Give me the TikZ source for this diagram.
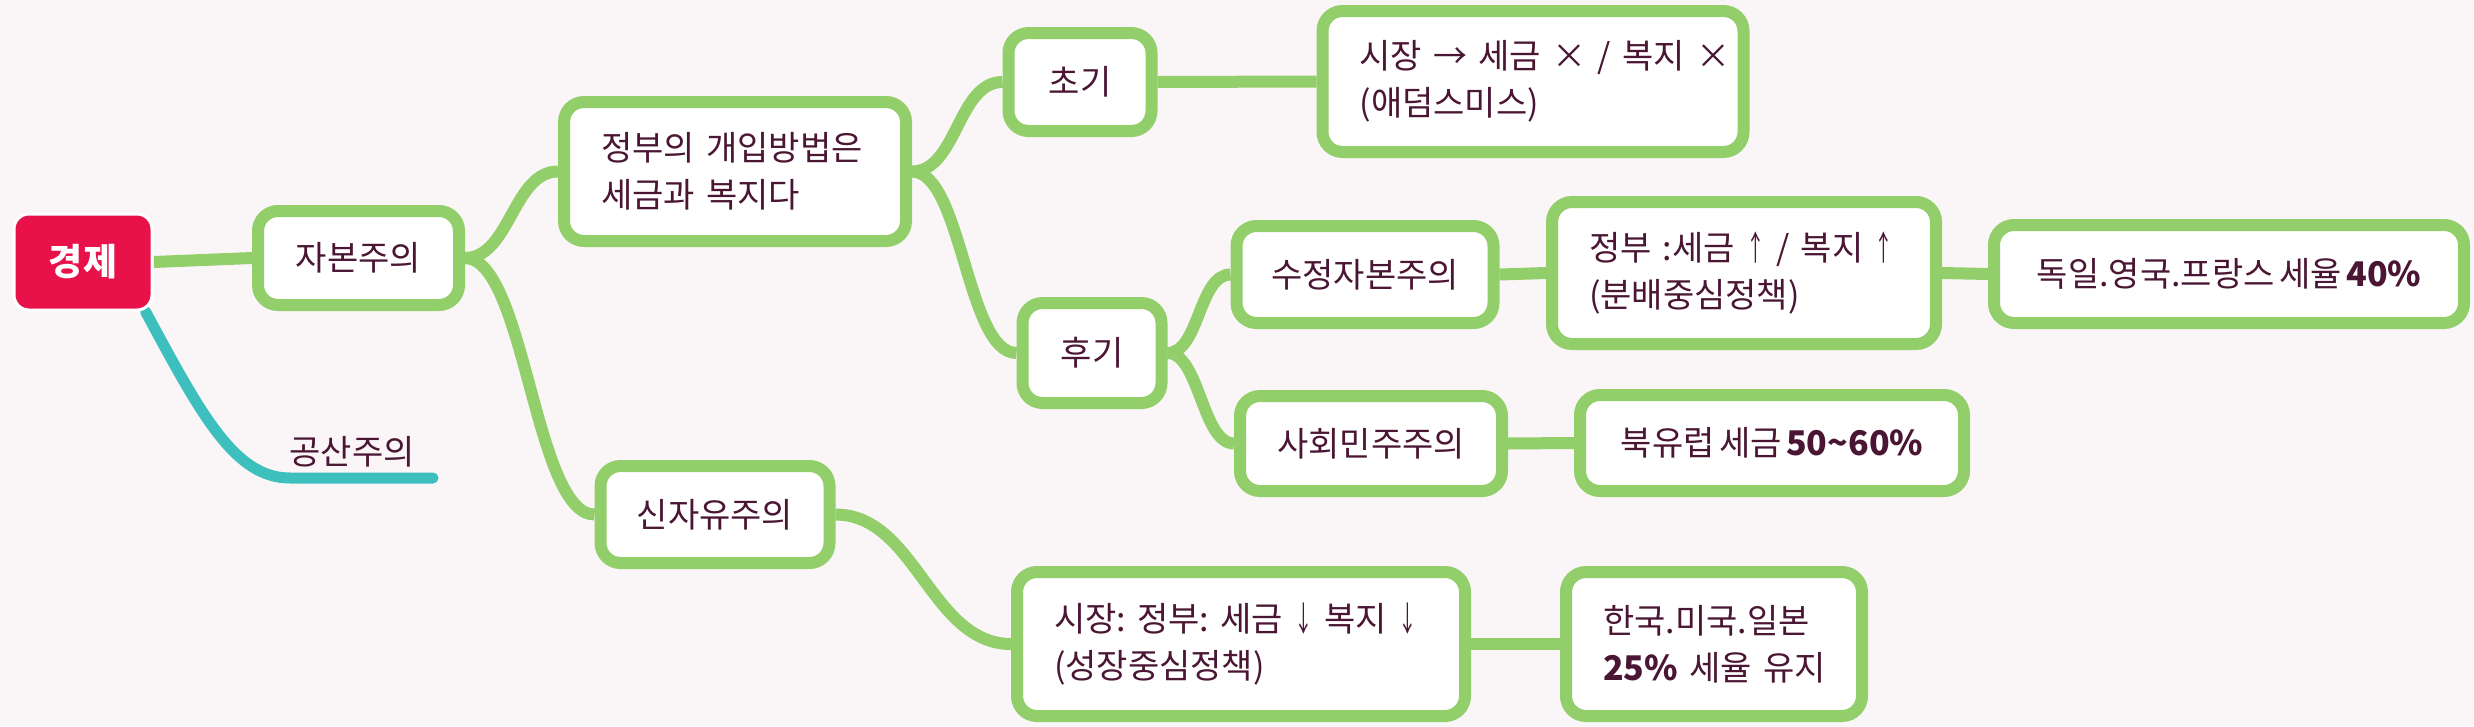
\documentclass[tikz,border=0pt]{standalone}
\usepackage{fontspec}
\setmainfont{Noto Sans CJK KR}[WordSpace=0.6]
\newfontfamily\arrowfont{Noto Sans CJK KR}[FakeStretch=0.55]
\newcommand{\uparr}{{\arrowfont ↑}}
\newcommand{\dnarr}{{\arrowfont ↓}}
\newcommand{\oneline}[1]{\mbox{#1}}
\frenchspacing
\usetikzlibrary{backgrounds}
\pgfdeclarelayer{edges}
\pgfsetlayers{background,edges,main}
\definecolor{bgcol}{HTML}{FAF6F7}
\definecolor{leaf}{HTML}{92CE6A}
\definecolor{tealline}{HTML}{3DBFBD}
\definecolor{rootred}{HTML}{E8114A}
\definecolor{ink}{HTML}{4A1634}
\tikzset{
  box/.style={draw=leaf, line width=12pt, fill=white, rounded corners=20pt, inner sep=0pt, text=ink},
  multibox/.style={box, align=left, inner xsep=37pt},
  rootbox/.style={draw=white, line width=3pt, fill=rootred, rounded corners=15pt, inner sep=0pt, text=white, font=\fontsize{37}{40}\selectfont\bfseries},
  edge/.style={draw=leaf, line width=12pt},
  tedge/.style={draw=tealline, line width=11pt, line cap=round},
  plainlabel/.style={text=ink, inner sep=0pt}
}
\begin{document}
\begin{tikzpicture}[x=1pt, y=-1pt, font=\fontsize{34}{47}\selectfont]
\begin{pgfonlayer}{background}
\fill[bgcol] (0,0) rectangle (2474,726);
\end{pgfonlayer}
\useasboundingbox (0,0) rectangle (2474,726);

% nodes
\node[rootbox, minimum width=138pt, minimum height=96pt] (gj) at (83,262) {경제};
\node[box, minimum width=201pt, minimum height=94pt] (jabon) at (358.5,258) {자본주의};
\node[plainlabel] (gongsan) at (352,452) {공산주의};
\coordinate (gsend) at (433,478);
\node[multibox, text width=268pt, minimum height=139pt] (jeongbu) at (735,171.5) {\oneline{정부의 개입방법은}\\\oneline{세금과 복지다}};
\node[box, minimum width=143pt, minimum height=98pt] (choki) at (1080,82) {초기};
\node[multibox, text width=347pt, minimum height=141pt] (sijang1) at (1533,81.5) {\oneline{시장 → 세금 × / 복지 ×}\\\oneline{(애덤스미스)}};
\node[box, minimum width=139pt, minimum height=100pt] (hugi) at (1092,353) {후기};
\node[box, minimum width=257pt, minimum height=97pt] (sujeong) at (1365,274.5) {수정자본주의};
\node[multibox, text width=310pt, minimum height=142pt] (jbsg) at (1744,273) {\oneline{정부 :세금 \uparr{} / 복지 \uparr}\\\oneline{(분배중심정책)}};
\node[box, minimum width=470pt, minimum height=98pt] (dogil) at (2229,274) {독일.영국.프랑스 세율 \textbf{40\%}};
\node[box, minimum width=262pt, minimum height=95pt] (sahoe) at (1371,443.5) {사회민주주의};
\node[box, minimum width=384pt, minimum height=96pt] (bukyu) at (1772,443) {북유럽 세금 \textbf{50\textasciitilde60\%}};
\node[box, minimum width=229pt, minimum height=97pt] (sinja) at (715,514.5) {신자유주의};
\node[multibox, text width=374pt, minimum height=144pt] (sijang2) at (1241,644) {\oneline{시장: 정부: 세금 \dnarr{} 복지 \dnarr}\\\oneline{(성장중심정책)}};
\node[multibox, text width=222pt, minimum height=144pt] (hanguk) at (1714,644) {\oneline{한국.미국.일본}\\\oneline{\textbf{25\%} 세율 유지}};

% connectors
\begin{pgfonlayer}{edges}
\draw[edge] (gj.east) -- (jabon.west);
\draw[tedge] ([xshift=-8pt]gj.south east) .. controls +(56,104) and +(-55,0) .. (290,478) -- (gsend);
\draw[edge] (jabon.east) .. controls +(45,0) and +(-45,0) .. (jeongbu.west);
\draw[edge] (jabon.east) .. controls +(60,0) and +(-60,0) .. (sinja.west);
\draw[edge] (jeongbu.east) .. controls +(45,0) and +(-45,0) .. (choki.west);
\draw[edge] (jeongbu.east) .. controls +(50,0) and +(-50,0) .. (hugi.west);
\draw[edge] (choki.east) -- (sijang1.west);
\draw[edge] (hugi.east) .. controls +(32,0) and +(-32,0) .. (sujeong.west);
\draw[edge] (hugi.east) .. controls +(32,0) and +(-32,0) .. (sahoe.west);
\draw[edge] (sujeong.east) -- (jbsg.west);
\draw[edge] (jbsg.east) -- (dogil.west);
\draw[edge] (sahoe.east) -- (bukyu.west);
\draw[edge] (sinja.east) .. controls +(80,0) and +(-80,0) .. (sijang2.west);
\draw[edge] (sijang2.east) -- (hanguk.west);
\end{pgfonlayer}
\end{tikzpicture}
\end{document}
